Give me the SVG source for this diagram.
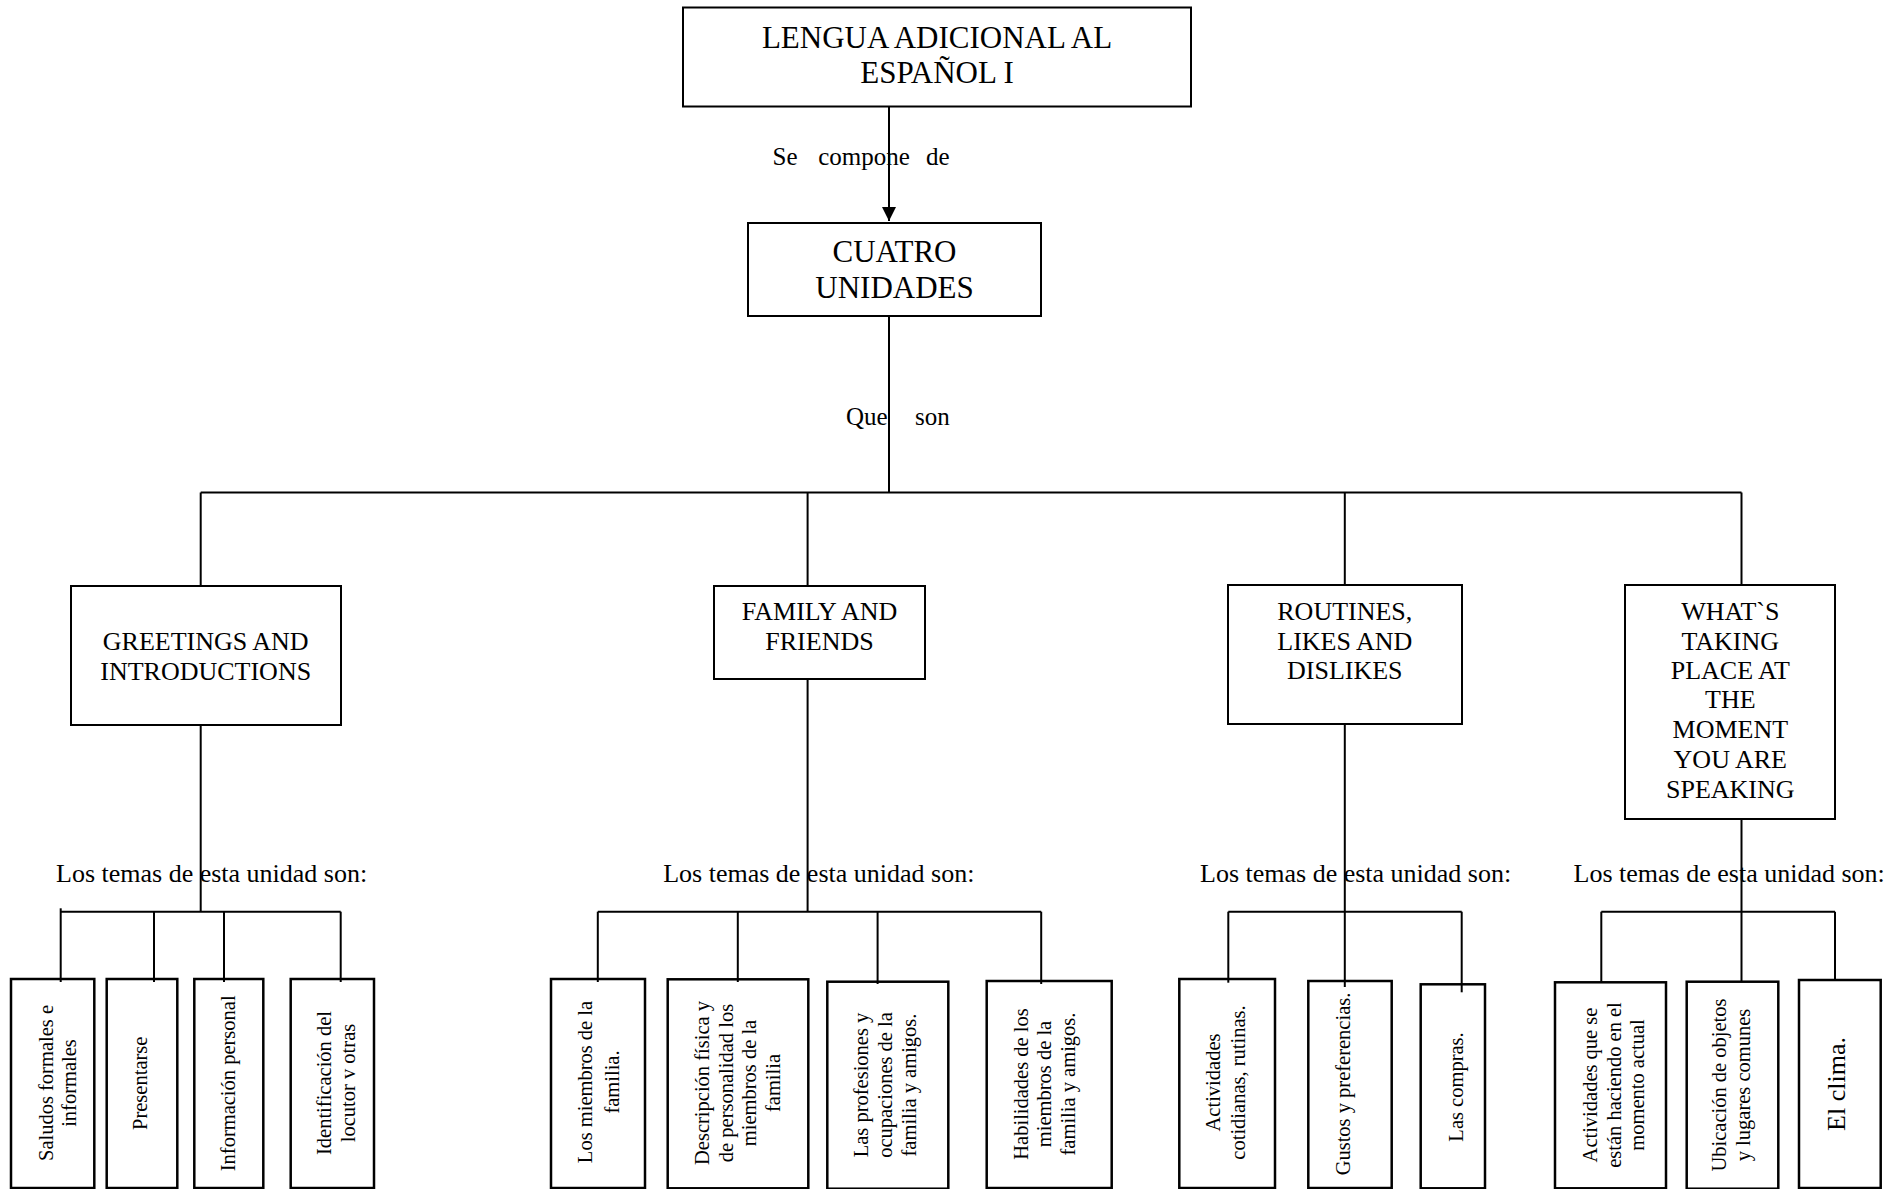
<svg xmlns="http://www.w3.org/2000/svg" width="1899" height="1189" viewBox="0 0 1899 1189">
<style>
.box{fill:#fff;stroke:#000;stroke-width:2}
.tbox{fill:#fff;stroke:#000;stroke-width:2.5}
.ln{stroke:#000;stroke-width:2;fill:none}
text{font-family:"Liberation Serif","Times New Roman",serif;fill:#000}
.big{font-size:31px;text-anchor:middle}
.unit{font-size:26px;text-anchor:middle}
.lbl{font-size:25px}
.temas{font-size:26px}
.topic{font-size:20.5px;text-anchor:middle}
.clima{font-size:26px;text-anchor:middle}
</style>
<defs>
<marker id="arr" viewBox="0 0 10 10" refX="10" refY="5" markerWidth="14" markerHeight="15" markerUnits="userSpaceOnUse" orient="auto">
<path d="M0,0 L10,5 L0,10 z" fill="#000"/>
</marker>
</defs>
<rect width="1899" height="1189" fill="#fff"/>

<g id="nodes">
<g id="n-root">
<rect class="box" x="683" y="7.5" width="508" height="99"/>
<text class="big" x="937" y="47.7">LENGUA ADICIONAL AL</text>
<text class="big" x="937" y="83.3">ESPAÑOL I</text>
</g>
<g id="n-cuatro">
<rect class="box" x="748" y="223" width="293" height="93"/>
<text class="big" x="894.5" y="261.7">CUATRO</text>
<text class="big" x="894.5" y="297.7">UNIDADES</text>
</g>
<g id="n-greetings">
<rect class="box" x="71" y="586" width="270" height="139"/>
<text class="unit" x="205.7" y="650">GREETINGS AND</text>
<text class="unit" x="205.7" y="680">INTRODUCTIONS</text>
</g>
<g id="n-family">
<rect class="box" x="714" y="586" width="211" height="93"/>
<text class="unit" x="819.5" y="620">FAMILY AND</text>
<text class="unit" x="819.5" y="650">FRIENDS</text>
</g>
<g id="n-routines">
<rect class="box" x="1228" y="585" width="234" height="139"/>
<text class="unit" x="1344.8" y="620">ROUTINES,</text>
<text class="unit" x="1344.8" y="650">LIKES AND</text>
<text class="unit" x="1344.8" y="679.3">DISLIKES</text>
</g>
<g id="n-whats">
<rect class="box" x="1625" y="585" width="210" height="234"/>
<text class="unit" x="1730.3" y="620">WHAT`S</text>
<text class="unit" x="1730.3" y="650">TAKING</text>
<text class="unit" x="1730.3" y="679.3">PLACE AT</text>
<text class="unit" x="1730.3" y="708.3">THE</text>
<text class="unit" x="1730.3" y="738.3">MOMENT</text>
<text class="unit" x="1730.3" y="768.3">YOU ARE</text>
<text class="unit" x="1730.3" y="798.3">SPEAKING</text>
</g>

<g id="n-g1">
<rect class="tbox" x="11" y="979" width="83.3" height="209"/>
<text class="topic" transform="rotate(-90)" x="-1083" y="52.5">Saludos formales e</text>
<text class="topic" transform="rotate(-90)" x="-1083" y="76">informales</text>
</g>
<g id="n-g2">
<rect class="tbox" x="106.7" y="979" width="70.6" height="209"/>
<text class="topic" transform="rotate(-90)" x="-1083.3" y="146.7">Presentarse</text>
</g>
<g id="n-g3">
<rect class="tbox" x="194.3" y="979" width="69" height="209"/>
<text class="topic" transform="rotate(-90)" x="-1083.3" y="235">Información personal</text>
</g>
<g id="n-g4">
<rect class="tbox" x="290.7" y="979" width="83.3" height="209"/>
<text class="topic" transform="rotate(-90)" x="-1083" y="331">Identificación del</text>
<text class="topic" transform="rotate(-90)" x="-1083" y="355">locutor v otras</text>
</g>

<g id="n-f1">
<rect class="tbox" x="551" y="979" width="94" height="209"/>
<text class="topic" transform="rotate(-90)" x="-1082" y="591.5">Los miembros de la</text>
<text class="topic" transform="rotate(-90)" x="-1082" y="618.5">familia.</text>
</g>
<g id="n-f2">
<rect class="tbox" x="667.7" y="979.3" width="140.6" height="209"/>
<text class="topic" transform="rotate(-90)" x="-1083" y="709">Descripción física y</text>
<text class="topic" transform="rotate(-90)" x="-1083" y="732.5">de personalidad los</text>
<text class="topic" transform="rotate(-90)" x="-1083" y="756">miembros de la</text>
<text class="topic" transform="rotate(-90)" x="-1083" y="779.5">familia</text>
</g>
<g id="n-f3">
<rect class="tbox" x="827.3" y="981.7" width="121" height="207"/>
<text class="topic" transform="rotate(-90)" x="-1085" y="868">Las profesiones y</text>
<text class="topic" transform="rotate(-90)" x="-1085" y="892">ocupaciones de la</text>
<text class="topic" transform="rotate(-90)" x="-1085" y="916">familia y amigos.</text>
</g>
<g id="n-f4">
<rect class="tbox" x="986.7" y="981" width="125" height="207"/>
<text class="topic" transform="rotate(-90)" x="-1084" y="1028">Habilidades de los</text>
<text class="topic" transform="rotate(-90)" x="-1084" y="1051">miembros de la</text>
<text class="topic" transform="rotate(-90)" x="-1084" y="1074.5">familia y amigos.</text>
</g>

<g id="n-r1">
<rect class="tbox" x="1179.3" y="979" width="95.7" height="209"/>
<text class="topic" transform="rotate(-90)" x="-1082.5" y="1220">Actividades</text>
<text class="topic" transform="rotate(-90)" x="-1082.5" y="1245">cotidianas, rutinas.</text>
</g>
<g id="n-r2">
<rect class="tbox" x="1308.3" y="981" width="83.4" height="207"/>
<text class="topic" transform="rotate(-90)" x="-1084" y="1350">Gustos y preferencias.</text>
</g>
<g id="n-r3">
<rect class="tbox" x="1420.7" y="984.3" width="64.3" height="204"/>
<text class="topic" transform="rotate(-90)" x="-1087" y="1463">Las compras.</text>
</g>

<g id="n-w1">
<rect class="tbox" x="1555" y="982.3" width="111" height="206"/>
<text class="topic" transform="rotate(-90)" x="-1085" y="1597">Actividades que se</text>
<text class="topic" transform="rotate(-90)" x="-1085" y="1620.5">están haciendo en el</text>
<text class="topic" transform="rotate(-90)" x="-1085" y="1643.5">momento actual</text>
</g>
<g id="n-w2">
<rect class="tbox" x="1686.7" y="981.7" width="91.6" height="207"/>
<text class="topic" transform="rotate(-90)" x="-1085" y="1725.5">Ubicación de objetos</text>
<text class="topic" transform="rotate(-90)" x="-1085" y="1750">y lugares comunes</text>
</g>
<g id="n-w3">
<rect class="tbox" x="1799" y="980" width="81.7" height="208"/>
<text class="clima" transform="rotate(-90)" x="-1084" y="1845">El clima.</text>
</g>
</g>

<g id="connectors">
<line class="ln" x1="889" y1="107" x2="889" y2="221" marker-end="url(#arr)"/>
<line class="ln" x1="889" y1="316" x2="889" y2="492.5"/>
<line class="ln" x1="200.7" y1="492.5" x2="1741.5" y2="492.5"/>
<line class="ln" x1="200.7" y1="492.5" x2="200.7" y2="586"/>
<line class="ln" x1="807.6" y1="492.5" x2="807.6" y2="586"/>
<line class="ln" x1="1344.8" y1="492.5" x2="1344.8" y2="585"/>
<line class="ln" x1="1741.5" y1="492.5" x2="1741.5" y2="585"/>

<line class="ln" x1="200.7" y1="725" x2="200.7" y2="911.7"/>
<line class="ln" x1="807.6" y1="679" x2="807.6" y2="911.7"/>
<line class="ln" x1="1344.8" y1="724" x2="1344.8" y2="987"/>
<line class="ln" x1="1741.5" y1="819" x2="1741.5" y2="982"/>

<line class="ln" x1="60.7" y1="911.7" x2="340.7" y2="911.7"/>
<line class="ln" x1="60.7" y1="908.3" x2="60.7" y2="982"/>
<line class="ln" x1="154" y1="911.7" x2="154" y2="982"/>
<line class="ln" x1="224" y1="911.7" x2="224" y2="982"/>
<line class="ln" x1="340.7" y1="911.7" x2="340.7" y2="982"/>

<line class="ln" x1="597.8" y1="911.7" x2="1041.2" y2="911.7"/>
<line class="ln" x1="597.8" y1="911.7" x2="597.8" y2="982"/>
<line class="ln" x1="737.8" y1="911.7" x2="737.8" y2="982"/>
<line class="ln" x1="877.6" y1="911.7" x2="877.6" y2="984"/>
<line class="ln" x1="1041.2" y1="911.7" x2="1041.2" y2="984"/>

<line class="ln" x1="1228.3" y1="911.7" x2="1461.7" y2="911.7"/>
<line class="ln" x1="1228.3" y1="911.7" x2="1228.3" y2="982.7"/>
<line class="ln" x1="1461.7" y1="911.7" x2="1461.7" y2="992.3"/>

<line class="ln" x1="1601.3" y1="911.7" x2="1835" y2="911.7"/>
<line class="ln" x1="1601.3" y1="911.7" x2="1601.3" y2="982.3"/>
<line class="ln" x1="1835" y1="911.7" x2="1835" y2="980"/>
</g>

<g id="labels">
<text class="lbl" x="772.5" y="165">Se</text>
<text class="lbl" x="818.2" y="165">compone</text>
<text class="lbl" x="926" y="165">de</text>
<text class="lbl" x="846" y="425">Que</text>
<text class="lbl" x="915" y="425">son</text>
<text class="temas" x="56" y="881.7">Los temas de esta unidad son:</text>
<text class="temas" x="663.2" y="881.7">Los temas de esta unidad son:</text>
<text class="temas" x="1200" y="881.7">Los temas de esta unidad son:</text>
<text class="temas" x="1573.6" y="881.7">Los temas de esta unidad son:</text>
</g>
</svg>
